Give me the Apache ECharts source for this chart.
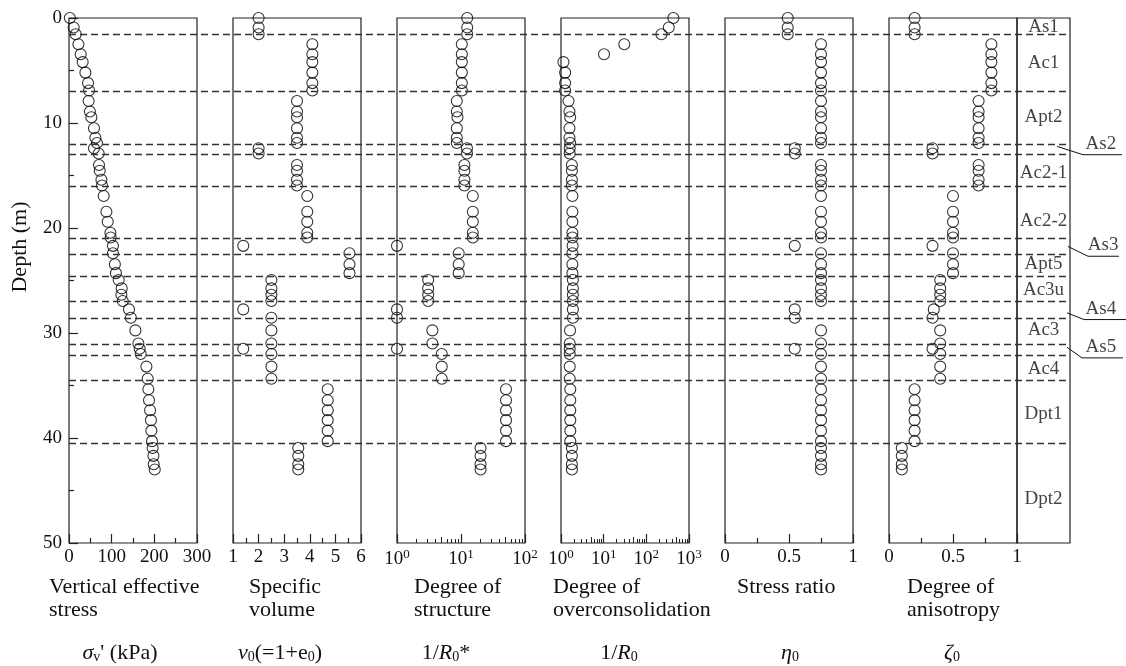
<!DOCTYPE html>
<html>
<head>
<meta charset="utf-8">
<script src="https://cdn.jsdelivr.net/npm/echarts@6/dist/echarts.min.js"></script>
<style>
html, body { margin: 0; padding: 0; background: #fff; }
#chart { width: 1126px; height: 666px; }
</style>
</head>
<body>
<div id="chart"></div>
<script>
// sample depths (m), shared by all six profiles
const depths = [0, 0.9, 1.55, 2.5, 3.45, 4.2, 5.2, 6.2, 6.9, 7.9, 8.9, 9.45, 10.5, 11.4, 11.9,
  12.4, 12.9, 14.0, 14.55, 15.4, 15.95, 16.95, 18.45, 19.4, 20.45, 20.9, 21.7, 22.4, 23.45, 24.3,
  24.95, 25.75, 26.35, 26.95, 27.75, 28.55, 29.75, 31.0, 31.5, 32.0, 33.2, 34.35, 35.35, 36.4,
  37.35, 38.3, 39.3, 40.3, 40.95, 41.7, 42.5, 43.0];

// vertical effective stress (kPa)
const stressVals = [2, 11, 15.7, 22, 27.4, 32, 38.4, 44.6, 47, 46, 49, 52.4, 58.6, 61.8, 65.6,
  58.6, 69.6, 70.3, 72, 76, 77.3, 81.3, 87.6, 90.7, 97, 97.7, 103, 103, 107.5, 110,
  116.5, 123.5, 122.8, 126, 140.6, 145, 155.6, 162.6, 165.7, 168, 181.4, 184.5, 186, 187.5,
  190, 192, 193, 194.5, 196, 197.8, 198.5, 201];

// specific volume v0
const volumeVals = [2.0, 2.0, 2.0, 4.1, 4.1, 4.1, 4.1, 4.1, 4.1, 3.5, 3.5, 3.5, 3.5, 3.5, 3.5,
  2.0, 2.0, 3.5, 3.5, 3.5, 3.5, 3.9, 3.9, 3.9, 3.9, 3.9, 1.4, 5.55, 5.55, 5.55,
  2.5, 2.5, 2.5, 2.5, 1.4, 2.5, 2.5, 2.5, 1.4, 2.5, 2.5, 2.5, 4.7, 4.7,
  4.7, 4.7, 4.7, 4.7, 3.55, 3.55, 3.55, 3.55];

// degree of structure 1/R0*
const structureVals = [12.5, 12.5, 12.5, 10.3, 10.3, 10.3, 10.3, 10.3, 10.3, 8.6, 8.6, 8.8, 8.6, 8.6, 8.6,
  12.4, 12.4, 11.3, 11.3, 11.3, 11.3, 15.3, 15.3, 15.3, 15.3, 15.3, 1.0, 9.2, 9.2, 9.2,
  3.07, 3.07, 3.07, 3.07, 1.0, 1.0, 3.57, 3.57, 1.0, 5.0, 5.0, 5.0, 50.5, 50.5,
  50.5, 50.5, 50.5, 50.5, 20.2, 20.2, 20.2, 20.2];

// degree of overconsolidation 1/R0
const ocVals = [430, 336, 226, 30.4, 10.2, 1.14, 1.25, 1.25, 1.25, 1.5, 1.58, 1.64, 1.58, 1.58, 1.64,
  1.6, 1.6, 1.8, 1.8, 1.8, 1.8, 1.85, 1.85, 1.85, 1.85, 1.85, 1.87, 1.85, 1.85, 1.85,
  1.9, 1.9, 1.9, 1.9, 1.9, 1.9, 1.63, 1.6, 1.6, 1.6, 1.6, 1.6, 1.65, 1.65,
  1.65, 1.65, 1.65, 1.65, 1.8, 1.8, 1.8, 1.8];

// stress ratio eta0
const ratioVals = [0.49, 0.49, 0.49, 0.75, 0.75, 0.75, 0.75, 0.75, 0.75, 0.75, 0.75, 0.75, 0.75, 0.75, 0.75,
  0.545, 0.545, 0.75, 0.75, 0.75, 0.75, 0.75, 0.75, 0.75, 0.75, 0.75, 0.545, 0.75, 0.75, 0.75,
  0.75, 0.75, 0.75, 0.75, 0.545, 0.545, 0.75, 0.75, 0.545, 0.75, 0.75, 0.75, 0.75, 0.75,
  0.75, 0.75, 0.75, 0.75, 0.75, 0.75, 0.75, 0.75];

// degree of anisotropy zeta0
const anisoVals = [0.2, 0.2, 0.2, 0.8, 0.8, 0.8, 0.8, 0.8, 0.8, 0.7, 0.7, 0.7, 0.7, 0.7, 0.7,
  0.34, 0.34, 0.7, 0.7, 0.7, 0.7, 0.5, 0.5, 0.5, 0.5, 0.5, 0.34, 0.5, 0.5, 0.5,
  0.4, 0.4, 0.4, 0.4, 0.35, 0.34, 0.4, 0.4, 0.34, 0.4, 0.4, 0.4, 0.2, 0.2,
  0.2, 0.2, 0.2, 0.2, 0.1, 0.1, 0.1, 0.1];

// layer boundaries (m)
const boundaryDepths = [1.5, 7, 12, 13, 16, 21, 22.5, 24.6, 27, 28.6, 31.1, 32.1, 34.5, 40.5];

// layer names written inside the right column
const layerNames = ['As1', 'Ac1', 'Apt2', 'Ac2-1', 'Ac2-2', 'Apt5', 'Ac3u', 'Ac3', 'Ac4', 'Dpt1', 'Dpt2'];
const layerMid = [0.85, 4.3, 9.4, 14.8, 19.3, 23.4, 25.9, 29.7, 33.4, 37.7, 45.8];

// thin sand layers labelled outside, with leader lines
const sandNames = ['As2', 'As3', 'As4', 'As5'];
const sandLeaders = [
  [[0.367, 12.23], [0.606, 13.02], [0.963, 13.02]],
  [[0.468, 21.76], [0.651, 22.69], [0.936, 22.69]],
  [[0.459, 28.08], [0.615, 28.72], [1.0, 28.72]],
  [[0.459, 31.36], [0.596, 32.37], [0.972, 32.37]]
];
const sandLabelAt = [[0.77, 13.02], [0.79, 22.69], [0.77, 28.72], [0.77, 32.37]];

const captions = ['Vertical effective\nstress', 'Specific\nvolume', 'Degree of\nstructure',
  'Degree of\noverconsolidation', 'Stress ratio', 'Degree of\nanisotropy'];
const symbols = ["{i|σ}{sub|v}' (kPa)", '{i|v}{sub|0}(=1+e{sub|0})', '1/{i|R}{sub|0}*',
  '1/{i|R}{sub|0}', '{i|η}{sub|0}', '{i|ζ}{sub|0}'];

const FONT = 'Liberation Serif';
const INK = '#111';
const AXIS = '#222';

const panelLeft = 69, panelStep = 164, panelWidth = 128, plotTop = 18, plotHeight = 525;
const captionLeft = [49, 249, 414, 553, 737, 907];
const symbolCenter = [120, 280, 446, 619, 790, 952];

const panels = [
  { values: stressVals, type: 'value', min: 0, max: 300, interval: 100 },
  { values: volumeVals, type: 'value', min: 1, max: 6, interval: 1 },
  { values: structureVals, type: 'log', min: 1, max: 100 },
  { values: ocVals, type: 'log', min: 1, max: 1000 },
  { values: ratioVals, type: 'value', min: 0, max: 1, interval: 0.5 },
  { values: anisoVals, type: 'value', min: 0, max: 1, interval: 0.5 }
];

function logTicks(max, ks) {
  const out = [];
  for (let d = 1; d < max; d *= 10) ks.forEach(k => out.push(k * d));
  return out;
}

const grid = [], xAxis = [], yAxis = [], series = [];

function hiddenAxes(gi, xmax) {
  xAxis.push({ gridIndex: gi, type: 'value', min: 0, max: xmax, show: false, axisLine: { onZero: false } });
  yAxis.push({ gridIndex: gi, type: 'value', inverse: true, min: 0, max: 50, show: false, axisLine: { onZero: false } });
  return { x: xAxis.length - 1, y: yAxis.length - 1 };
}

panels.forEach((p, i) => {
  grid.push({
    left: panelLeft + panelStep * i, top: plotTop, width: panelWidth, height: plotHeight,
    show: true, borderColor: AXIS, borderWidth: 1.2, outerBoundsMode: 'none'
  });
  const main = {
    gridIndex: i, type: p.type, min: p.min, max: p.max, position: 'bottom',
    axisLine: { show: false, onZero: false },
    splitLine: { show: false },
    axisTick: { show: true, inside: true, length: 9, lineStyle: { color: AXIS, width: 1.2 } },
    axisLabel: { fontFamily: FONT, fontSize: 19, color: INK, margin: 5 }
  };
  if (p.type === 'log') {
    main.logBase = 10;
    main.axisLabel.formatter = v => '10{sup|' + Math.round(Math.log10(v)) + '}';
    main.axisLabel.rich = {
      sup: { fontFamily: FONT, fontSize: 13, color: INK, padding: [0, 0, 9, 0] }
    };
  } else {
    main.interval = p.interval;
    main.minorTick = { show: true, splitNumber: 2, length: 5, lineStyle: { color: AXIS, width: 1.2 } };
  }
  xAxis.push(main);
  const xi = xAxis.length - 1;
  if (p.type === 'log') {
    [[logTicks(p.max, [2, 3, 4, 6, 7, 8, 9]), 4], [logTicks(p.max, [5]), 6]].forEach(([vals, len]) => {
      xAxis.push({
        gridIndex: i, type: 'log', logBase: 10, min: p.min, max: p.max, position: 'bottom',
        axisLine: { show: false, onZero: false }, splitLine: { show: false }, axisLabel: { show: false },
        axisTick: { show: true, inside: true, length: len, customValues: vals, lineStyle: { color: AXIS, width: 1 } }
      });
    });
  }
  const first = i === 0;
  yAxis.push({
    gridIndex: i, type: 'value', inverse: true, min: 0, max: 50, interval: 10, position: 'left',
    axisLine: { show: false, onZero: false },
    splitLine: { show: false },
    axisTick: { show: first, inside: true, length: 9, lineStyle: { color: AXIS, width: 1.2 } },
    minorTick: { show: first, splitNumber: 2, length: 5, lineStyle: { color: AXIS, width: 1.2 } },
    axisLabel: { show: first, fontFamily: FONT, fontSize: 19, color: INK, margin: 7 }
  });
  series.push({
    type: 'scatter', xAxisIndex: xi, yAxisIndex: yAxis.length - 1,
    data: depths.map((d, k) => [p.values[k], d]),
    symbol: 'circle', symbolSize: 11, clip: false, silent: true, z: 4,
    itemStyle: { color: 'rgba(255,255,255,0)', borderColor: '#000', borderWidth: 1.1 }
  });
});

// layer name column
grid.push({ left: 1017, top: plotTop, width: 53, height: plotHeight, show: true, borderColor: AXIS, borderWidth: 1.2 });
let ax = hiddenAxes(grid.length - 1, 1);
series.push({
  type: 'scatter', xAxisIndex: ax.x, yAxisIndex: ax.y, silent: true, symbolSize: 1,
  itemStyle: { color: 'rgba(0,0,0,0)' },
  data: layerNames.map((n, k) => ({ name: n, value: [0.5, layerMid[k]] })),
  label: { show: true, position: 'inside', formatter: '{b}', fontFamily: FONT, fontSize: 19, color: INK }
});

// dashed layer boundaries across all panels
grid.push({ left: panelLeft, top: plotTop, width: 1070 - panelLeft, height: plotHeight });
ax = hiddenAxes(grid.length - 1, 1);
series.push({
  type: 'line', xAxisIndex: ax.x, yAxisIndex: ax.y, data: [], silent: true,
  markLine: {
    silent: true, symbol: ['none', 'none'], label: { show: false },
    lineStyle: { type: [7, 4], color: '#333', width: 1.3 },
    data: boundaryDepths.map(d => ({ yAxis: d }))
  }
});

// outside labels for thin sand layers
grid.push({ left: 1017, top: plotTop, width: 109, height: plotHeight });
ax = hiddenAxes(grid.length - 1, 1);
sandLeaders.forEach(path => {
  series.push({
    type: 'line', xAxisIndex: ax.x, yAxisIndex: ax.y, data: path, symbol: 'none', silent: true,
    lineStyle: { color: INK, width: 1 }
  });
});
series.push({
  type: 'scatter', xAxisIndex: ax.x, yAxisIndex: ax.y, silent: true, symbolSize: 1,
  itemStyle: { color: 'rgba(0,0,0,0)' },
  data: sandNames.map((n, k) => ({ name: n, value: sandLabelAt[k] })),
  label: { show: true, position: 'top', distance: 1, formatter: '{b}', fontFamily: FONT, fontSize: 19, color: INK }
});

const richSym = {
  i: { fontFamily: FONT, fontSize: 22, fontStyle: 'italic', fill: INK },
  sub: { fontFamily: FONT, fontSize: 14, fill: INK, padding: [9, 0, 0, 0] }
};

const graphic = [];
captions.forEach((t, i) => {
  graphic.push({
    type: 'text', x: captionLeft[i], y: 576, silent: true,
    style: { text: t, fontFamily: FONT, fontSize: 22, lineHeight: 23, fill: INK, align: 'left', verticalAlign: 'top' }
  });
});
symbols.forEach((t, i) => {
  graphic.push({
    type: 'text', x: symbolCenter[i], y: 653, silent: true,
    style: { text: t, rich: richSym, fontFamily: FONT, fontSize: 22, fill: INK, align: 'center', verticalAlign: 'middle' }
  });
});
graphic.push({
  type: 'text', x: 20, y: 247, rotation: Math.PI / 2, silent: true,
  style: { text: 'Depth (m)', fontFamily: FONT, fontSize: 22, fill: INK, align: 'center', verticalAlign: 'middle' }
});

const myChart = echarts.init(document.getElementById('chart'), null, { renderer: 'canvas' });
const option = {
  backgroundColor: '#fff',
  animation: false,
  grid: grid,
  xAxis: xAxis,
  yAxis: yAxis,
  series: series,
  graphic: graphic
};
option && myChart.setOption(option);
window.addEventListener('resize', () => {
  myChart.resize();
});
</script>
</body>
</html>
